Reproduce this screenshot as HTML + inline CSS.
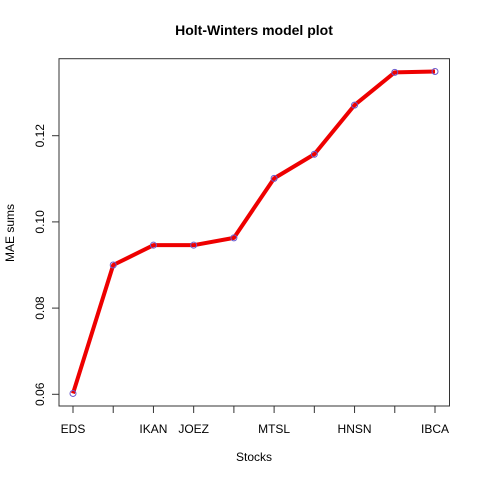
<!DOCTYPE html>
<html><head><meta charset="utf-8"><style>
body{margin:0;background:#fff}
svg{display:block;font-family:"Liberation Sans",Arial,sans-serif}
</style></head><body>
<svg id="chart" width="480" height="480" viewBox="0 0 480 480">
<rect width="480" height="480" fill="#fff"/>
<text x="254" y="35" text-anchor="middle" font-size="14" font-weight="bold">Holt-Winters model plot</text>
<rect x="59" y="58.7" width="390.5" height="347.3" fill="none" stroke="#333" stroke-width="1"/>
<text x="254" y="461" text-anchor="middle" font-size="12">Stocks</text>
<text transform="translate(14,233) rotate(-90)" text-anchor="middle" font-size="12">MAE sums</text>
<g id="axes"></g>
<g id="series"></g>
</svg>
<script>
const categories=["EDS","","IKAN","JOEZ","","MTSL","","HNSN","","IBCA"];
const maeValues=[0.0602,0.0900,0.0946,0.0946,0.0963,0.1101,0.1157,0.1271,0.1347,0.1349];
const yTicks=[0.06,0.08,0.10,0.12];
const yTickLabels=["0.06","0.08","0.10","0.12"];
const NS="http://www.w3.org/2000/svg";
const x0=73,x1=435,n=categories.length;
function xs(i){return x0+(x1-x0)*i/(n-1);}
function ys(v){return 394.3-(v-0.06)*(394.3-135.7)/0.06;}
function mk(t,a,p){const e=document.createElementNS(NS,t);for(const k in a)e.setAttribute(k,a[k]);p.appendChild(e);return e;}
const axes=document.getElementById('axes'),ser=document.getElementById('series');
categories.forEach((c,i)=>{
 const t=mk('line',{x1:xs(i),x2:xs(i),y1:406,y2:413,stroke:'#333'},axes);
 
 
 if(c){const l=mk('text',{x:xs(i),y:433,'text-anchor':'middle','font-size':'12'},axes);l.textContent=c;
 
 }
});
yTicks.forEach((v,i)=>{
 const t=mk('line',{x1:52,x2:59,y1:ys(v),y2:ys(v),stroke:'#333'},axes);
 
 
 const l=mk('text',{transform:`translate(44,${ys(v)}) rotate(-90)`,'text-anchor':'middle','font-size':'12'},axes);l.textContent=yTickLabels[i];
 
 
});
const pts=maeValues.map((v,i)=>xs(i)+','+ys(v)).join(' ');
const pl=mk('polyline',{points:pts,fill:'none',stroke:'#ee0000','stroke-width':'4','stroke-linejoin':'round'},ser);


maeValues.forEach((v,i)=>{
 const c=mk('circle',{cx:xs(i),cy:ys(v),r:3,fill:'none',stroke:'#6a5acd','stroke-width':'1'},ser);
 
 
});
</script>
</body></html>
